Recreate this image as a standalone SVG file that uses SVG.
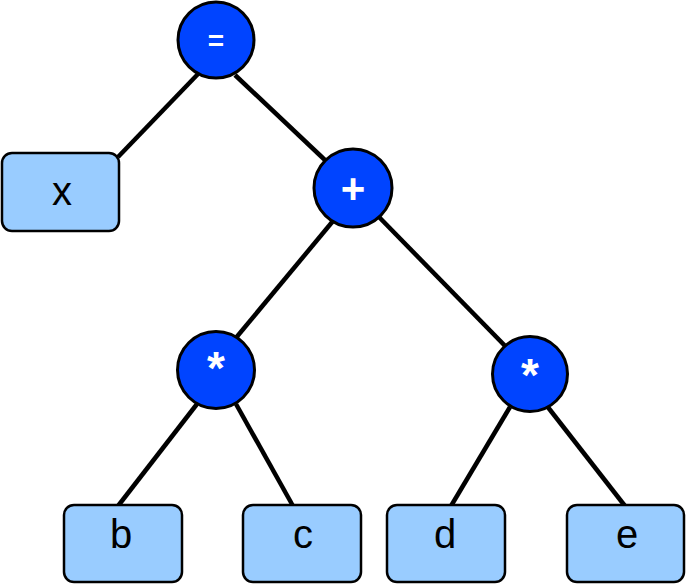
<svg xmlns="http://www.w3.org/2000/svg" width="686" height="584" viewBox="0 0 686 584">
<style>
.op circle{fill:#0044FF;stroke:#000;stroke-width:3}
.op text{fill:#fff;font-family:"Liberation Sans",Arial,sans-serif;font-weight:bold;text-anchor:middle}
.leaf rect{fill:#99CCFF;stroke:#000;stroke-width:2.5}
.leaf text{fill:#000;font-family:"Liberation Sans",Arial,sans-serif;font-size:40px;text-anchor:middle}
#edges line{stroke:#000;stroke-width:4.5;stroke-linecap:butt}
</style>
<rect width="686" height="584" fill="#fff"/>
<g id="edges">
<line x1="198" y1="74" x2="118" y2="157"/>
<line x1="235" y1="75" x2="326" y2="161"/>
<line x1="333" y1="221" x2="235" y2="339"/>
<line x1="378" y1="216" x2="509" y2="350"/>
<line x1="197" y1="404" x2="118" y2="506"/>
<line x1="236" y1="404" x2="293" y2="506"/>
<line x1="510" y1="407" x2="451" y2="506"/>
<line x1="547" y1="406" x2="625" y2="506"/>
</g>
<g id="n_eq" class="op"><circle cx="216" cy="40" r="38"/><text x="216" y="50" font-size="28">=</text></g>
<g id="n_plus" class="op"><circle cx="353" cy="188" r="39"/><text x="353" y="203" font-size="42">+</text></g>
<g id="n_mul1" class="op"><circle cx="216" cy="370" r="38.5"/><text x="216" y="384" font-size="46">*</text></g>
<g id="n_mul2" class="op"><circle cx="530" cy="374" r="37.5"/><text x="530" y="391" font-size="46">*</text></g>
<g id="n_x" class="leaf"><rect x="2" y="153" width="117" height="78" rx="10"/><text x="62" y="205">x</text></g>
<g id="n_b" class="leaf"><rect x="64" y="505" width="118" height="77" rx="10"/><text x="121" y="548">b</text></g>
<g id="n_c" class="leaf"><rect x="243" y="505" width="118" height="77" rx="10"/><text x="303" y="548">c</text></g>
<g id="n_d" class="leaf"><rect x="387" y="505" width="118" height="77" rx="10"/><text x="445" y="548">d</text></g>
<g id="n_e" class="leaf"><rect x="567" y="505" width="117" height="77" rx="10"/><text x="627" y="548">e</text></g>
</svg>
